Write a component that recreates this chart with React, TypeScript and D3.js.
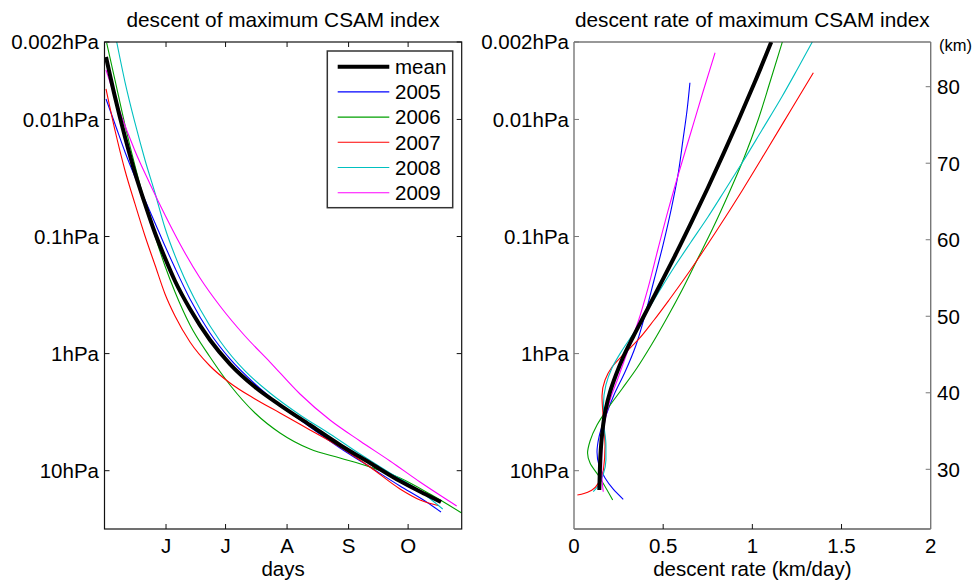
import React from "react";
import * as d3 from "d3";

// ---- axis ticks and labels ----
const monthDays = [152, 182, 213, 244, 274]; // day of year: Jun 1 .. Oct 1
const monthLabels = ["J", "J", "A", "S", "O"];
const pressureLevels = [0.002, 0.01, 0.1, 1, 10];
const pressureLabels = ["0.002hPa", "0.01hPa", "0.1hPa", "1hPa", "10hPa"];
const altitudeTicks = [30, 40, 50, 60, 70, 80];
const rateTicks = [0, 0.5, 1, 1.5, 2];
const rateLabels = ["0", "0.5", "1", "1.5", "2"];

// ---- series ----
const seriesNames = ["mean", "2005", "2006", "2007", "2008", "2009"];

// altitude (km) of the maximum CSAM index vs day of year: [day, km]
const descentMean = [
  [121.76, 83.88], [126.29, 78.65], [131.33, 73.43], [136.37, 68.72], [141.41, 64.68],
  [146.45, 60.88], [151.49, 57.61], [156.53, 54.61], [164.08, 50.95], [174.16, 46.9],
  [184.24, 43.76], [196.84, 40.76], [209.44, 38.4], [224.56, 35.79], [239.67, 33.18],
  [254.79, 30.82], [269.91, 28.47], [282.51, 26.77], [290.57, 25.73],
];
const descent2005 = [
  [121.76, 78.39], [126.29, 75.13], [131.33, 71.47], [136.37, 68.2], [141.41, 65.19],
  [146.45, 62.19], [151.49, 59.17], [156.53, 56.31], [164.08, 52.26], [174.16, 47.81],
  [184.24, 44.42], [196.84, 41.15], [209.44, 38.4], [224.56, 35.53], [239.67, 32.79],
  [254.79, 30.3], [269.91, 27.82], [282.51, 25.86], [290.57, 24.42],
];
const descent2006 = [
  [122.11, 85.71], [126.29, 80.87], [131.33, 74.99], [136.37, 69.64], [141.41, 64.8],
  [146.45, 60.49], [151.49, 56.57], [156.53, 53.17], [164.08, 48.86], [174.16, 44.68],
  [184.24, 41.02], [196.84, 37.36], [209.44, 34.75], [224.56, 32.65], [239.67, 31.48],
  [254.79, 30.3], [269.91, 28.86], [285.03, 26.77], [301.0, 24.29],
];
const descent2007 = [
  [121.76, 79.7], [126.29, 74.28], [131.33, 69.05], [136.37, 64.68], [141.41, 60.49],
  [146.45, 56.7], [151.49, 52.91], [156.53, 50.03], [164.08, 46.64], [174.16, 43.5],
  [184.24, 41.28], [196.84, 39.19], [209.44, 37.36], [224.56, 35.14], [239.67, 32.92],
  [254.79, 30.3], [269.91, 27.43], [279.99, 25.99], [289.06, 25.27],
];
const descent2008 = [
  [127.15, 85.84], [131.33, 80.61], [136.37, 75.26], [141.41, 70.42], [146.45, 66.11],
  [151.49, 61.53], [159.05, 56.31], [169.12, 50.95], [179.2, 46.77], [191.8, 42.85],
  [204.4, 39.97], [219.52, 37.1], [234.63, 34.62], [249.75, 32.0], [264.87, 29.52],
  [279.99, 27.17], [291.43, 24.81],
];
const descent2009 = [
  [121.76, 82.18], [128.81, 76.69], [136.37, 71.6], [143.93, 67.29], [151.49, 63.23],
  [159.05, 59.44], [169.12, 55.0], [179.2, 51.34], [191.8, 47.42], [204.4, 44.02],
  [219.52, 39.84], [234.63, 36.44], [249.75, 33.7], [264.87, 31.09], [279.99, 28.34],
  [298.48, 25.21],
];

// descent rate (km/day) vs altitude: [rate, km]
const rateMean = [
  [0.142, 27.3], [0.145, 29.91], [0.15, 32.52], [0.16, 35.14], [0.177, 37.75], [0.202, 40.1],
  [0.235, 42.32], [0.276, 44.68], [0.331, 47.29], [0.389, 49.9], [0.482, 54.09], [0.574, 58.27],
  [0.662, 62.45], [0.75, 66.76], [0.835, 71.08], [0.92, 75.52], [1.014, 80.61], [1.106, 85.84],
];
const rate2005 = [
  [0.276, 26.08], [0.219, 27.43], [0.174, 28.86], [0.14, 30.56], [0.129, 32.26], [0.14, 34.22],
  [0.174, 36.71], [0.224, 39.71], [0.286, 42.72], [0.348, 46.25], [0.398, 50.16], [0.449, 54.74],
  [0.499, 59.31], [0.544, 63.88], [0.583, 68.47], [0.611, 73.04], [0.634, 76.96], [0.65, 80.52],
];
const rate2006 = [
  [0.217, 25.99], [0.135, 29.26], [0.09, 30.82], [0.076, 32.13], [0.09, 33.7], [0.129, 35.79],
  [0.191, 38.01], [0.269, 40.5], [0.353, 43.24], [0.437, 46.37], [0.521, 49.77], [0.606, 53.43],
  [0.69, 57.35], [0.779, 61.53], [0.869, 66.11], [0.953, 70.68], [1.032, 75.65], [1.099, 80.61],
  [1.168, 85.84],
];
const rate2007 = [
  [0.019, 26.64], [0.056, 26.84], [0.101, 27.3], [0.14, 28.34], [0.165, 29.91], [0.174, 33.05],
  [0.165, 36.44], [0.157, 39.58], [0.174, 41.67], [0.213, 43.37], [0.275, 44.94], [0.359, 46.9],
  [0.449, 49.51], [0.533, 52.13], [0.653, 56.05], [0.802, 61.27], [0.945, 66.51], [1.082, 71.76],
  [1.217, 76.99], [1.342, 81.83],
];
const rate2008 = [
  [0.108, 27.07], [0.135, 27.82], [0.163, 29.26], [0.179, 31.22], [0.179, 33.18], [0.168, 35.79],
  [0.165, 38.4], [0.179, 41.02], [0.213, 43.24], [0.264, 45.33], [0.331, 47.68], [0.404, 50.43],
  [0.482, 53.43], [0.566, 56.56], [0.656, 59.7], [0.751, 62.97], [0.847, 66.5], [0.942, 70.02],
  [1.054, 74.34], [1.165, 78.65], [1.25, 82.18], [1.336, 85.84],
];
const rate2009 = [
  [0.164, 27.07], [0.157, 28.86], [0.155, 31.22], [0.16, 33.83], [0.174, 36.44], [0.202, 39.06],
  [0.247, 41.93], [0.303, 45.59], [0.359, 49.25], [0.415, 53.69], [0.471, 58.79], [0.527, 63.76],
  [0.589, 68.85], [0.656, 74.08], [0.723, 79.31], [0.791, 84.44],
];

const descentSeries = [descentMean, descent2005, descent2006, descent2007, descent2008, descent2009];
const rateSeries = [rateMean, rate2005, rate2006, rate2007, rate2008, rate2009];

// ---- styling ----
const colors = ["#000000", "#0000ff", "#00a000", "#ff0000", "#00c0c0", "#ff00ff"];
const widths = [4, 1.1, 1.1, 1.1, 1.1, 1.1];
const FONT = "'Liberation Sans', Arial, Helvetica, sans-serif";
const FS = 20.5;

// log-pressure altitude used to place the hPa labels on the km axis
const altitudeOf = (p: number) => 29.82 + 15.3 * Math.log10(10 / p);

const TOP = 42;
const BOTTOM = 529;
const L = { x0: 104.5, x1: 461.7 };
const R = { x0: 574, x1: 930.7 };
const TICK = 5;
const KM_MIN = 22.2;
const KM_MAX = 85.84;

export default function App() {
  const y = d3.scaleLinear().domain([KM_MIN, KM_MAX]).range([BOTTOM, TOP]);
  const xDay = d3.scaleLinear().domain([121, 301]).range([L.x0, L.x1]);
  const xRate = d3.scaleLinear().domain([0, 2]).range([R.x0, R.x1]);

  const dayLine = d3
    .line<number[]>()
    .x((d) => xDay(d[0]))
    .y((d) => y(d[1]))
    .curve(d3.curveMonotoneX);
  const rateLine = d3
    .line<number[]>()
    .x((d) => xRate(d[0]))
    .y((d) => y(d[1]))
    .curve(d3.curveMonotoneY);

  // thin yearly curves first, mean on top
  const order = [1, 2, 3, 4, 5, 0];

  const pressureY = pressureLevels.map((p) => y(Math.min(altitudeOf(p), KM_MAX)));

  return (
    <svg
      width={977}
      height={584}
      style={{ position: "absolute", left: 0, top: 0, background: "#fff" }}
      fontFamily={FONT}
    >
      <defs>
        <clipPath id="clipL">
          <rect x={L.x0} y={TOP} width={L.x1 - L.x0} height={BOTTOM - TOP} />
        </clipPath>
        <clipPath id="clipR">
          <rect x={R.x0} y={TOP} width={R.x1 - R.x0} height={BOTTOM - TOP} />
        </clipPath>
      </defs>
      <rect width={977} height={584} fill="#fff" />

      {/* ===== left panel: descent ===== */}
      <text x={(L.x0 + L.x1) / 2} y={27} fontSize={20.8} textAnchor="middle" fill="#000">
        descent of maximum CSAM index
      </text>
      <g clipPath="url(#clipL)" fill="none">
        {order.map((i) => (
          <path key={i} d={dayLine(descentSeries[i] as any) || ""} stroke={colors[i]} strokeWidth={widths[i]} />
        ))}
      </g>
      <rect x={L.x0} y={TOP} width={L.x1 - L.x0} height={BOTTOM - TOP} fill="none" stroke="#111" strokeWidth={1.2} />
      {monthDays.map((d, i) => (
        <g key={i}>
          <line x1={xDay(d)} x2={xDay(d)} y1={BOTTOM} y2={BOTTOM - TICK} stroke="#111" />
          <line x1={xDay(d)} x2={xDay(d)} y1={TOP} y2={TOP + TICK} stroke="#111" />
          <text x={xDay(d)} y={553} fontSize={FS} textAnchor="middle">
            {monthLabels[i]}
          </text>
        </g>
      ))}
      {pressureLabels.map((lab, i) => (
        <g key={i}>
          <line x1={L.x0} x2={L.x0 + TICK} y1={pressureY[i]} y2={pressureY[i]} stroke="#111" />
          <line x1={L.x1} x2={L.x1 - TICK} y1={pressureY[i]} y2={pressureY[i]} stroke="#111" />
          <text x={99} y={pressureY[i]} dy="0.36em" fontSize={FS} textAnchor="end">
            {lab}
          </text>
        </g>
      ))}
      <text x={(L.x0 + L.x1) / 2} y={576} fontSize={FS} textAnchor="middle">
        days
      </text>

      {/* legend */}
      <g>
        <rect x={327.3} y={51} width={125.4} height={156.7} fill="#fff" stroke="#333" strokeWidth={1.5} />
        {seriesNames.map((name, i) => {
          const ly = 66.7 + i * 25.2;
          return (
            <g key={name}>
              <line x1={337.7} x2={389.3} y1={ly} y2={ly} stroke={colors[i]} strokeWidth={widths[i]} />
              <text x={395} y={ly} dy="0.36em" fontSize={FS}>
                {name}
              </text>
            </g>
          );
        })}
      </g>

      {/* ===== right panel: descent rate ===== */}
      <text x={(R.x0 + R.x1) / 2} y={27} fontSize={20.8} textAnchor="middle" fill="#000">
        descent rate of maximum CSAM index
      </text>
      <g clipPath="url(#clipR)" fill="none">
        {order.map((i) => (
          <path key={i} d={rateLine(rateSeries[i] as any) || ""} stroke={colors[i]} strokeWidth={widths[i]} />
        ))}
      </g>
      <line x1={R.x0} x2={R.x1} y1={TOP} y2={TOP} stroke="#333" strokeWidth={1.2} />
      <line x1={R.x0} x2={R.x1} y1={BOTTOM} y2={BOTTOM} stroke="#111" strokeWidth={1.2} />
      <line x1={R.x0} x2={R.x0} y1={TOP} y2={BOTTOM} stroke="#777" strokeWidth={1.4} />
      <line x1={R.x1} x2={R.x1} y1={TOP} y2={BOTTOM} stroke="#777" strokeWidth={1.4} />
      {rateTicks.map((r, i) => (
        <g key={i}>
          {i > 0 && i < rateTicks.length - 1 && (
            <line x1={xRate(r)} x2={xRate(r)} y1={BOTTOM} y2={BOTTOM - TICK} stroke="#111" />
          )}
          <text x={xRate(r)} y={553} fontSize={FS} textAnchor="middle">
            {rateLabels[i]}
          </text>
        </g>
      ))}
      {pressureLabels.map((lab, i) => (
        <g key={i}>
          <line x1={R.x0} x2={R.x0 + TICK} y1={pressureY[i]} y2={pressureY[i]} stroke="#777" />
          <text x={569} y={pressureY[i]} dy="0.36em" fontSize={FS} textAnchor="end">
            {lab}
          </text>
        </g>
      ))}
      {altitudeTicks.map((k) => (
        <g key={k}>
          <line x1={R.x1} x2={R.x1 - TICK} y1={y(k)} y2={y(k)} stroke="#777" />
          <text x={937} y={y(k)} dy="0.36em" fontSize={FS}>
            {k}
          </text>
        </g>
      ))}
      <text x={939} y={45} dy="0.36em" fontSize={16.5}>
        (km)
      </text>
      <text x={(R.x0 + R.x1) / 2} y={576} fontSize={FS} textAnchor="middle">
        descent rate (km/day)
      </text>
    </svg>
  );
}
